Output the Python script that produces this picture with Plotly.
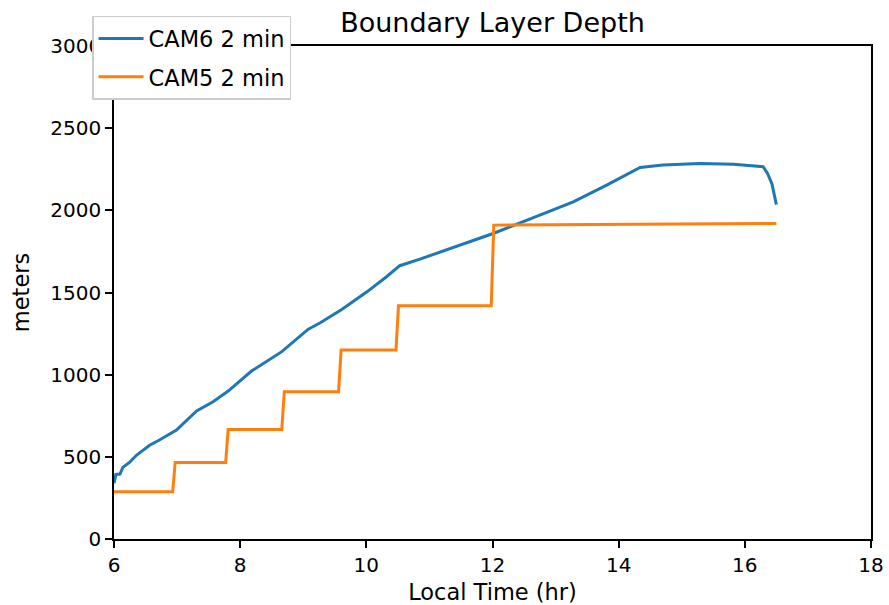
import plotly.graph_objects as go

# CAM6 2 min (blue)
cam6_t = [6.0, 6.03, 6.095, 6.14, 6.25, 6.36, 6.57, 6.70, 6.99, 7.31, 7.57, 7.81, 8.18, 8.42,
          8.66, 9.08, 9.27, 9.61, 10.01, 10.32, 10.53, 10.85, 11.27, 12.01, 12.75, 13.28,
          13.81, 14.34, 14.7, 15.29, 15.82, 16.29, 16.36, 16.43, 16.5]
cam6_z = [339, 393, 395, 436, 468, 511, 572, 598, 663, 779, 835, 900, 1022, 1079,
          1140, 1277, 1316, 1397, 1504, 1596, 1663, 1703, 1758, 1859, 1971, 2052,
          2153, 2261, 2276, 2285, 2281, 2265, 2225, 2160, 2035]

# CAM5 2 min (orange)
cam5_t = [6.0, 6.93, 6.97, 7.77, 7.81, 8.66, 8.70, 9.56, 9.60, 10.47, 10.51, 11.98, 12.02, 16.5]
cam5_z = [288, 288, 466, 466, 667, 667, 896, 896, 1150, 1150, 1419, 1419, 1910, 1920]

x_ticks = [6, 8, 10, 12, 14, 16, 18]
y_ticks = [0, 500, 1000, 1500, 2000, 2500, 3000]

FONT = "DejaVu Sans"

fig = go.Figure()
fig.add_trace(go.Scatter(x=cam6_t, y=cam6_z, mode="lines", name="CAM6 2 min",
                         line=dict(color="#1f77b4", width=3), legendgroup="a"))
fig.add_trace(go.Scatter(x=cam5_t, y=cam5_z, mode="lines", name="CAM5 2 min",
                         line=dict(color="#ff7f0e", width=3), legendgroup="b"))

axis_common = dict(showgrid=False, zeroline=False, showline=True, linecolor="black",
                   linewidth=1.5, mirror=True, ticks="outside", ticklen=7, tickwidth=1.5,
                   tickcolor="black", automargin=False,
                   tickfont=dict(family=FONT, size=20, color="black"))

fig.update_layout(
    width=889, height=605,
    margin=dict(l=114, r=18, t=46, b=66),
    paper_bgcolor="white", plot_bgcolor="white",
    font=dict(family=FONT, size=20, color="black"),
    title=dict(text="Boundary Layer Depth", x=0.5, xref="paper", xanchor="center",
               y=1 - 23 / 605, yref="container", yanchor="middle",
               font=dict(family=FONT, size=27, color="black")),
    xaxis=dict(range=[6, 18], tickvals=x_ticks, ticktext=[str(v) for v in x_ticks],
               title=dict(text="Local Time (hr)", font=dict(family=FONT, size=22.5), standoff=12),
               **axis_common),
    yaxis=dict(range=[0, 3000], tickvals=y_ticks, ticktext=[str(v) for v in y_ticks],
               title=dict(text="meters", font=dict(family=FONT, size=22.5), standoff=14),
               **axis_common),
    legend=dict(x=-0.029, y=1.061, xanchor="left", yanchor="top",
                bgcolor="white", bordercolor="#cccccc", borderwidth=1.5,
                font=dict(family=FONT, size=22.5, color="black"),
                itemwidth=45, tracegroupgap=6),
    showlegend=True,
)

fig.write_html("out.html")
